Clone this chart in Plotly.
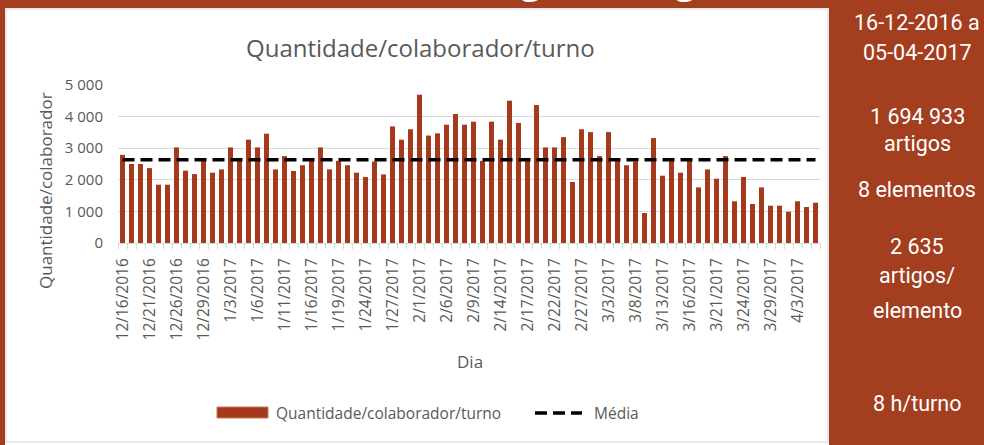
import plotly.graph_objects as go

# ---- data ----
dias = [
    "12/16/2016", "12/19/2016", "12/20/2016", "12/21/2016", "12/22/2016", "12/23/2016",
    "12/26/2016", "12/27/2016", "12/28/2016", "12/29/2016", "12/30/2016",
    "1/2/2017", "1/3/2017", "1/4/2017", "1/5/2017", "1/6/2017", "1/9/2017", "1/10/2017",
    "1/11/2017", "1/12/2017", "1/13/2017", "1/16/2017", "1/17/2017", "1/18/2017",
    "1/19/2017", "1/20/2017", "1/23/2017", "1/24/2017", "1/25/2017", "1/26/2017",
    "1/27/2017", "1/30/2017", "1/31/2017",
    "2/1/2017", "2/2/2017", "2/3/2017", "2/6/2017", "2/7/2017", "2/8/2017", "2/9/2017",
    "2/10/2017", "2/13/2017", "2/14/2017", "2/15/2017", "2/16/2017", "2/17/2017",
    "2/20/2017", "2/21/2017", "2/22/2017", "2/23/2017", "2/24/2017", "2/27/2017",
    "3/1/2017", "3/2/2017", "3/3/2017", "3/6/2017", "3/7/2017", "3/8/2017", "3/9/2017",
    "3/10/2017", "3/13/2017", "3/14/2017", "3/15/2017", "3/16/2017", "3/17/2017",
    "3/20/2017", "3/21/2017", "3/22/2017", "3/23/2017", "3/24/2017", "3/27/2017",
    "3/28/2017", "3/29/2017", "3/30/2017", "3/31/2017",
    "4/3/2017", "4/4/2017", "4/5/2017",
]
quantidade = [
    2790, 2500, 2500, 2370, 1845, 1845, 3025, 2290, 2180, 2620,
    2225, 2330, 3025, 2620, 3270, 3025, 3460, 2330, 2750, 2280,
    2460, 2620, 3025, 2330, 2600, 2460, 2225, 2090, 2580, 2170,
    3690, 3270, 3600, 4690, 3400, 3470, 3745, 4080, 3745, 3840,
    2600, 3840, 3270, 4500, 3800, 2600, 4370, 3025, 3025, 3350,
    1930, 3600, 3510, 2750, 3510, 2630, 2460, 2580, 950, 3320,
    2130, 2630, 2225, 2630, 1760, 2330, 2035, 2750, 1320, 2090,
    1235, 1760, 1180, 1180, 990, 1320, 1140, 1275,
]
media = 2635
tick_step = 3
panel_lines = [
    "16-12-2016 a", "05-04-2017", "1 694 933", "artigos", "8 elementos",
    "2 635", "artigos/", "elemento", "8 h/turno",
]

# ---- layout geometry (pixels) ----
W, H = 984, 445
L, R, T, B = 118, 820, 85, 243
BROWN = "#A33E1F"
BAR = "#A5391C"
GREY = "#595959"
GRID = "#D9D9D9"
FONT = "Open Sans"
PANEL_FONT = "Roboto"


def xp(px):
    return (px - L) / (R - L)


def yp(py):
    return (B - py) / (B - T)


idx = list(range(len(dias)))

fig = go.Figure()
fig.add_trace(go.Bar(
    x=idx, y=quantidade, name="Quantidade/colaborador/turno",
    marker=dict(color=BAR, line=dict(width=0)), width=0.56,
    showlegend=False, hoverinfo="skip",
))
fig.add_trace(go.Scatter(
    x=idx, y=[media] * len(idx), mode="lines", name="Média",
    line=dict(color="black", width=3.5, dash="12px,6px"),
    showlegend=False, hoverinfo="skip",
))

shapes = [
    # white chart area
    dict(type="rect", xref="paper", yref="paper", x0=xp(5), x1=xp(829),
         y0=yp(447), y1=yp(8), fillcolor="white",
         line=dict(width=0), layer="below"),
    # chart area border
    dict(type="rect", xref="paper", yref="paper", x0=xp(6), x1=xp(828),
         y0=yp(442), y1=yp(9), fillcolor="rgba(0,0,0,0)",
         line=dict(color="#DCE3EC", width=1.5), layer="below"),
    # legend: bar swatch
    dict(type="rect", xref="paper", yref="paper", x0=xp(217), x1=xp(268),
         y0=yp(418), y1=yp(407), fillcolor=BAR, line=dict(color="#C7775E", width=1)),
    # legend: dashed line
    dict(type="line", xref="paper", yref="paper", x0=xp(535), x1=xp(582),
         y0=yp(413), y1=yp(413), line=dict(color="black", width=3.5, dash="12px,6px")),
]

annotations = [
    dict(text="Quantidade/colaborador/turno", x=xp(420), y=yp(47), xref="paper", yref="paper",
         showarrow=False, font=dict(family=FONT, size=24, color=GREY), xanchor="center", yanchor="middle"),
    dict(text="Quantidade/colaborador", x=xp(45), y=yp(191), xref="paper", yref="paper",
         showarrow=False, textangle=-90, font=dict(family=FONT, size=17, color=GREY),
         xanchor="center", yanchor="middle"),
    dict(text="Dia", x=xp(470), y=yp(361), xref="paper", yref="paper",
         showarrow=False, font=dict(family=FONT, size=17, color=GREY), xanchor="center", yanchor="middle"),
    dict(text="Quantidade/colaborador/turno", x=xp(274), y=yp(412.5), xref="paper", yref="paper",
         showarrow=False, font=dict(family=FONT, size=15.5, color=GREY), xanchor="left", yanchor="middle"),
    dict(text="Média", x=xp(592), y=yp(412.5), xref="paper", yref="paper",
         showarrow=False, font=dict(family=FONT, size=15.5, color=GREY), xanchor="left", yanchor="middle"),
    # cropped slide heading (only descenders visible)
    dict(text="Produtividade, Triagem artigos (A)", x=xp(801), y=yp(-23), xref="paper", yref="paper",
         showarrow=False, font=dict(family=FONT, size=40, color="white"), xanchor="right", yanchor="middle"),
]

panel_y = [23, 52, 116, 143, 189, 246, 275, 310, 403]
for txt, py in zip(panel_lines, panel_y):
    annotations.append(dict(
        text=txt, x=xp(917), y=yp(py), xref="paper", yref="paper", showarrow=False,
        font=dict(family=PANEL_FONT, size=21.5, color="white"),
        xanchor="center", yanchor="middle"))

fig.update_layout(
    width=W, height=H,
    margin=dict(l=L, r=W - R, t=T, b=H - B, pad=0),
    paper_bgcolor=BROWN, plot_bgcolor="white",
    separators=", ",
    bargap=0.44,
    shapes=shapes, annotations=annotations,
    showlegend=False,
    hovermode=False,
    xaxis=dict(
        range=[-0.5, len(idx) - 0.5],
        tickvals=idx[::tick_step], ticktext=dias[::tick_step],
        tickangle=-90, tickfont=dict(family=FONT, size=15.5, color=GREY),
        ticks="", showgrid=False, zeroline=False,
        showline=True, linecolor=GRID, linewidth=1,
        ticklabelstandoff=8,
        minor=dict(ticks="outside", ticklen=5, tickcolor=GRID, dtick=1, tick0=0.5, showgrid=False),
    ),
    yaxis=dict(
        range=[0, 5000], dtick=1000, tickformat=",d",
        tickfont=dict(family=FONT, size=15, color=GREY),
        showgrid=True, gridcolor=GRID, gridwidth=1, zeroline=False,
        ticks="", ticklabelstandoff=14,
    ),
)

fig.write_html("out.html", config={"displayModeBar": False},
               post_script="document.body.style.margin='0';")
